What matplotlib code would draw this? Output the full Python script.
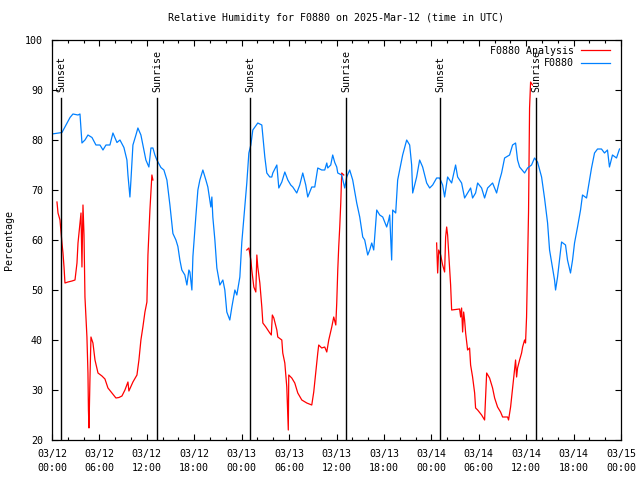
import numpy as np
import matplotlib
matplotlib.use('Agg')
import matplotlib.pyplot as plt
from matplotlib.ticker import MultipleLocator

# hours since 03/12 00:00 UTC
obs_hours = [0.0, 1.26, 1.77, 2.28, 2.65, 3.29, 3.54, 3.79, 4.17, 4.55, 5.06, 5.56, 6.07, 6.45,
             6.83, 7.33, 7.71, 8.22, 8.60, 9.10, 9.48, 9.61, 9.86, 9.99, 10.24, 10.62, 10.87,
             11.25, 11.50, 11.88, 12.26, 12.52, 12.77, 13.02, 13.27, 13.78, 14.16, 14.54, 14.92,
             15.30, 15.68, 15.93, 16.18, 16.43, 16.81, 17.07, 17.32, 17.45, 17.70, 17.83, 18.20,
             18.46, 18.71, 19.09, 19.47, 19.72, 20.10, 20.23, 20.35, 20.61, 20.86, 21.24, 21.62,
             21.87, 22.12, 22.50, 22.76, 23.14, 23.39, 23.77, 24.02, 24.40, 24.65, 24.91, 25.16,
             25.41, 26.04, 26.55, 26.93, 27.18, 27.56, 27.81, 27.94, 28.45, 28.70, 29.08, 29.46,
             29.84, 30.21, 30.47, 30.97, 31.35, 31.73, 32.11, 32.36, 32.87, 33.25, 33.63, 34.13,
             34.51, 34.77, 34.89, 35.27, 35.52, 35.78, 36.03, 36.16, 36.66, 37.04, 37.29, 37.67,
             38.05, 38.56, 38.94, 39.32, 39.57, 39.95, 40.20, 40.46, 40.71, 41.09, 41.47, 41.85,
             42.35, 42.60, 42.73, 42.98, 43.11, 43.49, 43.74, 43.99, 44.37, 44.88, 45.26, 45.51,
             45.64, 45.89, 46.14, 46.52, 46.90, 47.41, 47.79, 48.17, 48.67, 49.05, 49.43, 49.68,
             50.06, 50.57, 51.07, 51.33, 51.83, 52.21, 52.59, 52.97, 53.22, 53.60, 53.86, 54.36,
             54.74, 55.12, 55.75, 56.26, 56.64, 56.89, 57.27, 57.90, 58.28, 58.66, 58.91, 59.17,
             59.80, 60.18, 60.68, 61.06, 61.44, 61.95, 62.33, 62.71, 62.96, 63.21, 63.59, 63.72,
             63.97, 64.22, 64.48, 64.98, 65.23, 65.61, 65.87, 66.12, 66.50, 66.88, 67.13, 67.64,
             68.01, 68.27, 68.65, 69.03, 69.53, 69.91, 70.29, 70.54, 70.92, 71.43, 71.81]
obs_rh = [81.2, 81.5, 83, 84.5, 85.2, 85, 85.2, 79.4, 80, 81, 80.5, 79, 79, 78,
          79, 79, 81.4, 79.5, 80, 78.5, 76, 73, 68.6, 72, 79, 81, 82.4,
          81, 79, 76, 74.6, 78.4, 78.4, 77, 76, 74.5, 74, 72, 67,
          61.3, 60, 58.7, 56, 54, 53, 51, 54, 53.6, 50, 56.7, 64.7,
          70, 72, 74, 72, 70.6, 66.6, 68.6, 64.6, 60, 54.4, 51, 52,
          50, 45.6, 44, 46.6, 50, 49, 52.6, 59.6, 66.6, 71.4, 77.4, 79,
          82, 83.4, 83, 76.6, 73.4, 72.6, 72.6, 73.4, 75, 70.4, 71.6, 73.6,
          72, 71, 70.6, 69.4, 71, 73.4, 71, 68.6, 70.6, 70.6, 74.4, 74,
          74, 75.4, 74.4, 75, 77, 75.5, 74.6, 73.4, 73, 70.4, 72.6, 74,
          72, 67.4, 64.6, 60.6, 60, 57, 58, 59.4, 58, 66, 65, 64.6,
          62.6, 64, 65, 56, 66, 65.4, 72, 74, 77, 80, 79, 75,
          69.4, 71, 72.6, 76, 74.6, 71.4, 70.4, 71, 72.4, 72.4, 71, 68.6,
          72.6, 71.4, 75, 72.6, 71.4, 68.4, 69.4, 70.4, 68.4, 69.4, 71.4, 70.4,
          68.4, 70.4, 71.4, 69.4, 72, 73.4, 76.4, 77, 79, 79.4, 76, 74.6,
          73.4, 74.4, 75, 76.4, 75.6, 72.6, 68.3, 63.4, 58, 55.6, 52, 50,
          52.6, 56, 59.6, 59, 56, 53.4, 56, 59.4, 62.6, 66, 69, 68.4,
          72, 74.4, 77.4, 78.2, 78.2, 77.4, 78, 74.6, 77, 76.4, 78.2]

ana_hours = [0.63, 0.76, 1.01, 1.14, 1.26, 1.39, 1.52, 1.64, 2.02, 2.53, 2.91, 3.16, 3.29, 3.54,
             3.67, 3.79, 3.92, 4.05, 4.17, 4.42, 4.55, 4.61, 4.68, 4.80, 4.93, 5.18, 5.44, 5.82,
             6.32, 6.70, 7.08, 7.59, 8.09, 8.47, 8.85, 9.23, 9.61, 9.73, 10.24, 10.75, 11.00,
             11.25, 11.50, 11.76, 12.01, 12.07, 12.14, 12.26, 12.39, 12.64, 12.77,
             np.nan,
             24.65, 24.91, 25.16, 25.28, 25.54, 25.79, 25.92, 26.04, 26.30, 26.42, 26.55, 26.68,
             27.06, 27.56, 27.75, 27.88, 28.07, 28.45, 28.57, 29.08, 29.20, 29.46, 29.71, 29.84,
             29.90, 29.96, 30.34, 30.72, 31.10, 31.61, 32.24, 32.87, 33.12, 33.38, 33.63, 33.75,
             34.13, 34.51, 34.77, 35.02, 35.40, 35.65, 35.91, 36.03, 36.16, 36.28, 36.41, 36.54,
             36.66, 36.92,
             np.nan,
             48.67, 48.80, 48.93, 49.18, 49.43, 49.68, 49.81, 49.94, 50.06, 50.32, 50.44, 50.57,
             51.07, 51.58, 51.71, 51.83, 51.96, 52.09, 52.21, 52.34, 52.47, 52.59, 52.84, 52.97,
             53.22, 53.48, 53.60, 53.86, 54.36, 54.74, 54.87, 55.00, 55.37, 55.75, 56.01, 56.38,
             56.76, 57.02, 57.65, 57.77, 58.03, 58.28, 58.41, 58.66, 58.79, 58.91, 59.17, 59.42,
             59.55, 59.80, 59.92, 60.05, 60.18, 60.30, 60.43, 60.56, 60.81]
ana_rh = [67.6, 65.4, 64, 61.6, 59.4, 57.4, 54.6, 51.4, 51.6, 51.8, 52, 55.4, 59.4, 63.4,
          65.4, 54.6, 67, 61, 48.6, 40.6, 33.4, 26, 22.4, 32, 40.6, 39.4, 36, 33.4,
          32.8, 32.2, 30.4, 29.4, 28.4, 28.5, 28.8, 30, 31.6, 29.8, 31.6, 33, 36,
          40, 42.6, 45.6, 47.6, 52.4, 57, 61.4, 66, 73, 72,
          np.nan,
          58, 58.4, 56, 54, 50.6, 49.6, 57, 54.6, 51.4, 49, 46.6, 43.4,
          42.6, 41.4, 41, 45, 44.4, 42, 40.6, 40, 37.4, 35.4, 30.6, 25,
          22, 33, 32.4, 31.4, 29.4, 28, 27.4, 27, 29.6, 33.6, 37.4, 39,
          38.4, 38.6, 37.6, 40, 42.6, 44.6, 43, 47.4, 54, 58.6, 62.6, 67.4,
          73.4, 73,
          np.nan,
          59.4, 53.4, 58, 57, 55, 53.6, 60.6, 62.6, 61, 54.4, 51, 46,
          46.1, 46.2, 44.6, 46.4, 41.6, 45.6, 44, 41.4, 39.6, 38, 38.4, 35,
          32.6, 29.4, 26.4, 26, 25, 24, 28.6, 33.4, 32.4, 30.4, 28.4, 26.6,
          25.6, 24.6, 24.6, 24, 26.6, 30.4, 32.4, 36, 32.6, 34.4, 36, 37.4,
          38.6, 40, 39.4, 44.6, 55, 65.6, 86.4, 91.6, 91]

sunset_hours = [1.18, 25.09, 49.09]
sunrise_hours = [13.31, 37.21, 61.23]

tick_hours = list(range(0, 73, 6))
tick_labels = ['03/12\n00:00', '03/12\n06:00', '03/12\n12:00', '03/12\n18:00',
               '03/13\n00:00', '03/13\n06:00', '03/13\n12:00', '03/13\n18:00',
               '03/14\n00:00', '03/14\n06:00', '03/14\n12:00', '03/14\n18:00',
               '03/15\n00:00']

mono = 'DejaVu Sans Mono'
fs = 7.2
plt.rcParams['font.family'] = mono
plt.rcParams['font.size'] = fs

fig = plt.figure(figsize=(6.4, 4.8), dpi=100)
ax = fig.add_axes([52 / 640, 40 / 480, 569 / 640, 400 / 480])

ax.plot(ana_hours, ana_rh, color='#ff0000', lw=0.9, label='F0880 Analysis')
ax.plot(obs_hours, obs_rh, color='#0080ff', lw=0.9, label='F0880')

for h in sunset_hours:
    ax.plot([h, h], [20, 88.4], color='black', lw=1.0)
    ax.text(h, 89.6, 'Sunset', rotation=90, ha='center', va='bottom', fontsize=fs)
for h in sunrise_hours:
    ax.plot([h, h], [20, 88.4], color='black', lw=1.0)
    ax.text(h, 89.6, 'Sunrise', rotation=90, ha='center', va='bottom', fontsize=fs)

ax.set_xlim(0, 72)
ax.set_ylim(20, 100)
ax.set_xticks(tick_hours)
ax.set_xticklabels(tick_labels, linespacing=1.45)
ax.xaxis.set_minor_locator(MultipleLocator(2))
ax.set_yticks(range(20, 101, 10))
ax.tick_params(which='both', direction='in', top=True, right=True, width=0.8)
ax.tick_params(which='major', length=4, pad=6.5)
ax.tick_params(which='minor', length=2)
for s in ax.spines.values():
    s.set_linewidth(0.9)

ax.set_title('Relative Humidity for F0880 on 2025-Mar-12 (time in UTC)', fontsize=fs, pad=14)
ax.set_ylabel('Percentage', labelpad=8)

ax.legend(loc='upper right', bbox_to_anchor=(0.9807, 0.985), frameon=False, markerfirst=False,
          borderaxespad=0, borderpad=0, handlelength=2.9, handletextpad=0.7, labelspacing=0.25,
          fontsize=fs)

fig.savefig('out.png', dpi=100)
